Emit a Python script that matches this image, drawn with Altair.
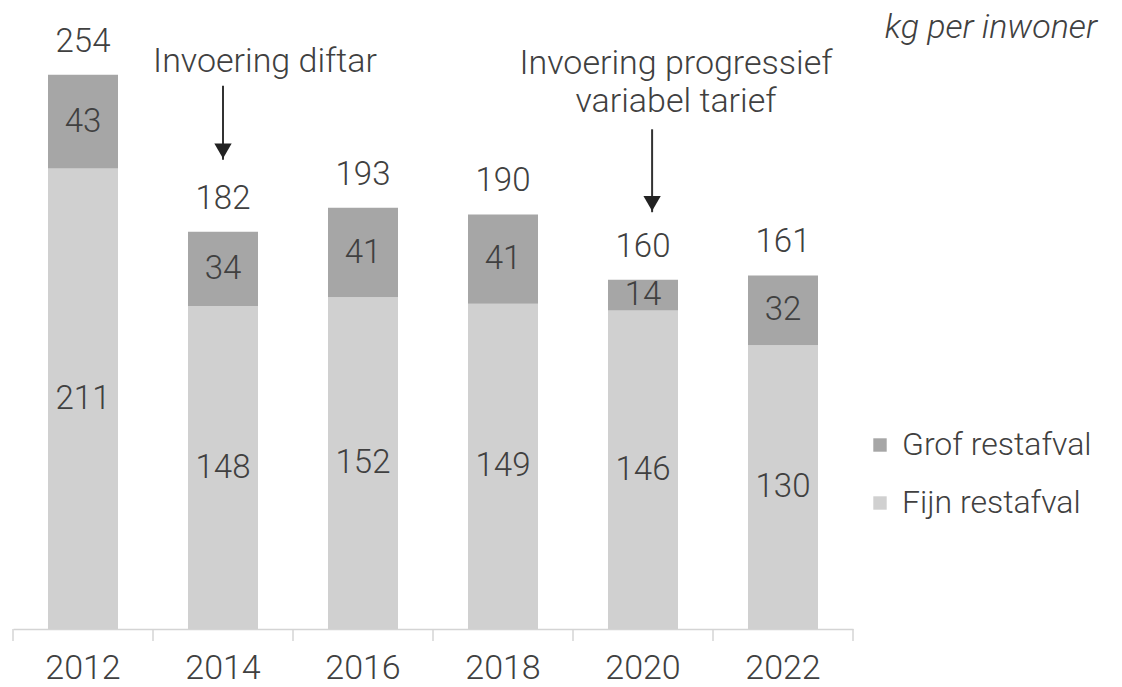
import altair as alt
import pandas as pd

years = ["2012", "2014", "2016", "2018", "2020", "2022"]
fijn = [211, 148, 152, 149, 146, 130]
grof = [43, 34, 41, 41, 14, 32]
totals = [254, 182, 193, 190, 160, 161]
series = ["Grof restafval", "Fijn restafval"]
colors = ["#a6a6a6", "#d0d0d0"]

ann1_year = ["2014"]
ann1_text = ["Invoering diftar"]
ann1_value = [260]
ann1_arrow = [249, 215, 219]  # start, tip, head centre

ann2_year = ["2020", "2020"]
ann2_text = ["Invoering progressief", "variabel tarief"]
ann2_value = [259, 241.5]
ann2_arrow = [229, 191, 195]

unit_text = ["kg per inwoner"]

FONT = "Roboto"
TXT = "#404040"
AXC = "#d4d4d4"

rows = []
for y, f, g in zip(years, fijn, grof):
    rows.append(dict(year=y, cat="Fijn restafval", start=0, end=f, val=f, mid=f / 2))
    rows.append(dict(year=y, cat="Grof restafval", start=f, end=f + g, val=g, mid=f + g / 2))
df = pd.DataFrame(rows)
tot = pd.DataFrame(dict(year=years, total=totals, top=[f + g for f, g in zip(fijn, grof)]))
yr = pd.DataFrame(dict(year=years))

a1 = pd.DataFrame(dict(year=ann1_year, text=ann1_text, v=ann1_value))
a1r = pd.DataFrame(dict(year=ann1_year, s=[ann1_arrow[0]], e=[ann1_arrow[1]], h=[ann1_arrow[2]]))
a2 = pd.DataFrame(dict(year=ann2_year, text=ann2_text, v=ann2_value))
a2r = pd.DataFrame(dict(year=[ann2_year[0]], s=[ann2_arrow[0]], e=[ann2_arrow[1]], h=[ann2_arrow[2]]))
ut = pd.DataFrame(dict(t=unit_text))

yscale = alt.Scale(domain=[0, 280], nice=False, zero=True)
xenc = alt.X(
    "year:O",
    scale=alt.Scale(paddingInner=0.5, paddingOuter=0.25),
    axis=alt.Axis(
        title=None, labelAngle=0, labelFont=FONT, labelFontSize=34, labelFontWeight=300,
        labelColor=TXT, domainColor=AXC, domainWidth=1.5, ticks=False, labelPadding=22,
    ),
)

bars = alt.Chart(df).mark_bar().encode(
    x=xenc,
    y=alt.Y("start:Q", scale=yscale, axis=None),
    y2="end:Q",
    color=alt.Color(
        "cat:N",
        scale=alt.Scale(domain=series, range=colors),
        legend=alt.Legend(
            title=None, orient="none", legendX=851, legendY=411, symbolType="square",
            symbolSize=180, symbolStrokeWidth=0, labelFontSize=32, labelFont=FONT,
            labelFontWeight=300, labelColor=TXT, labelOffset=6, labelLimit=400,
            rowPadding=26, padding=0,
        ),
    ),
)

ticks_left = alt.Chart(yr).mark_rule(color=AXC, strokeWidth=1.5, xOffset=-35).encode(
    x=alt.X("year:O", bandPosition=0), y=alt.value(611), y2=alt.value(623))
ticks_right = alt.Chart(yr).mark_rule(color=AXC, strokeWidth=1.5, xOffset=35).encode(
    x=alt.X("year:O", bandPosition=1), y=alt.value(611), y2=alt.value(623)
).transform_filter(alt.datum.year == years[-1])

seg_labels = alt.Chart(df).mark_text(
    font=FONT, fontSize=33, fontWeight=300, color=TXT, baseline="middle"
).encode(x="year:O", y=alt.Y("mid:Q", scale=yscale), text="val:Q")

tot_labels = alt.Chart(tot).mark_text(
    font=FONT, fontSize=33, fontWeight=300, color=TXT, baseline="middle", dy=-33
).encode(x="year:O", y=alt.Y("top:Q", scale=yscale), text="total:Q")

a1_text = alt.Chart(a1).mark_text(
    font=FONT, fontSize=34, fontWeight=300, color=TXT, baseline="middle", dx=42
).encode(x="year:O", y=alt.Y("v:Q", scale=yscale), text="text:N")
a1_rule = alt.Chart(a1r).mark_rule(color="#333333", strokeWidth=2).encode(
    x="year:O", y=alt.Y("s:Q", scale=yscale), y2="e:Q")
a1_head = alt.Chart(a1r).mark_point(
    shape="triangle-down", filled=True, size=300, color="#222222", opacity=1
).encode(x="year:O", y=alt.Y("h:Q", scale=yscale))

a2_text = alt.Chart(a2).mark_text(
    font=FONT, fontSize=34, fontWeight=300, color=TXT, baseline="middle", dx=33
).encode(x="year:O", y=alt.Y("v:Q", scale=yscale), text="text:N")
a2_rule = alt.Chart(a2r).mark_rule(color="#333333", strokeWidth=2).encode(
    x=alt.X("year:O", bandPosition=0.63), y=alt.Y("s:Q", scale=yscale), y2="e:Q")
a2_head = alt.Chart(a2r).mark_point(
    shape="triangle-down", filled=True, size=300, color="#222222", opacity=1
).encode(x=alt.X("year:O", bandPosition=0.63), y=alt.Y("h:Q", scale=yscale))

unit = alt.Chart(ut).mark_text(
    font=FONT, fontSize=34, fontWeight=300, fontStyle="italic", color=TXT,
    align="right", baseline="middle"
).encode(x=alt.value(1084), y=alt.value(10), text="t:N")

chart = alt.layer(
    bars, ticks_left, ticks_right, seg_labels, tot_labels,
    a1_text, a1_rule, a1_head, a2_text, a2_rule, a2_head, unit
).properties(
    width=840, height=611,
    autosize=alt.AutoSizeParams(type="none"),
    padding={"left": 13, "top": 18, "right": 269, "bottom": 58},
).configure_view(stroke=None)

chart.save("out.html", embed_options={"renderer": "svg", "actions": False})
